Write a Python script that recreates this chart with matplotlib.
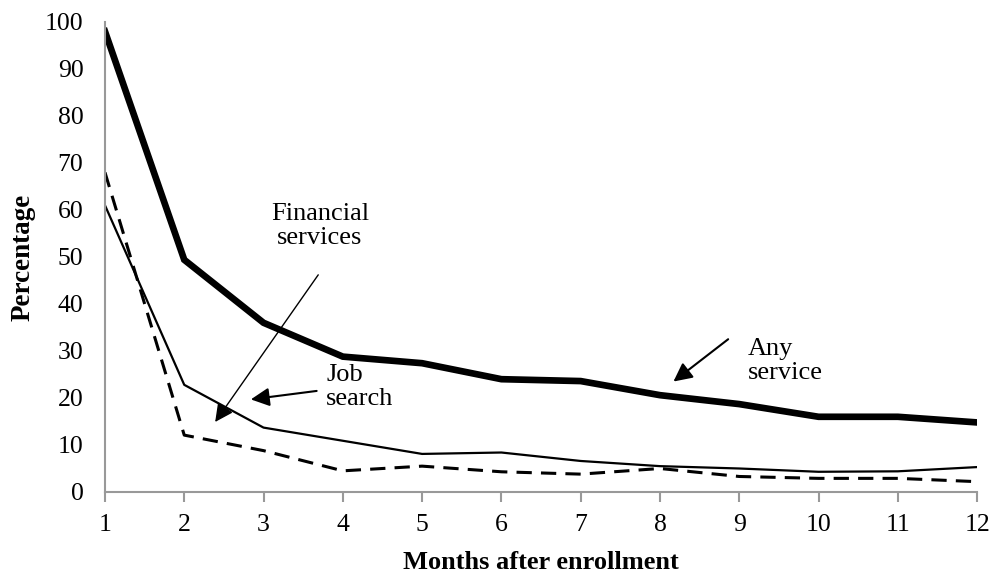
import matplotlib
matplotlib.use("Agg")
import matplotlib.pyplot as plt

plt.rcParams['font.family'] = ['Liberation Serif', 'DejaVu Serif']

months = [1, 2, 3, 4, 5, 6, 7, 8, 9, 10, 11, 12]
any_service = [98.0, 49.4, 36.0, 28.8, 27.4, 24.0, 23.6, 20.6, 18.7, 16.0, 16.0, 14.8]
job_search = [61.0, 22.8, 13.7, 10.9, 8.1, 8.4, 6.6, 5.5, 5.0, 4.3, 4.4, 5.3]
financial = [68.0, 12.1, 8.8, 4.5, 5.5, 4.3, 3.8, 5.0, 3.3, 2.9, 2.9, 2.2]

fig = plt.figure(figsize=(9.93, 5.78), dpi=100)
ax = fig.add_axes([0.1057, 0.1488, 0.8783, 0.8132])

ax.plot(months, any_service, color='black', lw=4.8, solid_joinstyle='miter')
ax.plot(months, job_search, color='black', lw=1.6)
ax.plot(months, financial, color='black', lw=2.2, dashes=(5, 3))

ax.set_xlim(1, 12)
ax.set_ylim(0, 100)
ax.set_xticks(months)
ax.set_yticks(range(0, 101, 10))

for side in ['top', 'right']:
    ax.spines[side].set_visible(False)
for side in ['left', 'bottom']:
    ax.spines[side].set_color('#999999')
    ax.spines[side].set_linewidth(1.5)

ax.tick_params(axis='x', direction='out', length=7, width=1.5, color='#999999',
               labelsize=18.5, pad=8.5)
ax.tick_params(axis='y', length=0, labelsize=18.5, pad=15.5)

ax.set_xlabel('Months after enrollment', fontsize=19, fontweight='bold', labelpad=11)
ax.set_ylabel('Percentage', fontsize=19.5, fontweight='bold', labelpad=7)

arrow = dict(arrowstyle='-|>', color='black', lw=1.5, mutation_scale=28, shrinkA=0, shrinkB=0)
ax.annotate('', xy=(2.39, 14.9), xytext=(3.69, 46.2),
            arrowprops=dict(arrowstyle='-|>', color='black', lw=1.0, mutation_scale=28,
                            shrinkA=0, shrinkB=0))
ax.text(3.71, 56.6, 'Financial\nservices', fontsize=19, ha='center', va='center', linespacing=1.15)

ax.annotate('', xy=(2.84, 19.7), xytext=(3.67, 21.5), arrowprops=arrow)
ax.text(3.79, 22.3, 'Job\nsearch', fontsize=19, ha='left', va='center', linespacing=1.15)

ax.annotate('', xy=(8.17, 23.5), xytext=(8.86, 32.5), arrowprops=arrow)
ax.text(9.11, 27.9, 'Any\nservice', fontsize=19, ha='left', va='center', linespacing=1.15)

fig.savefig('out.png', dpi=100)
